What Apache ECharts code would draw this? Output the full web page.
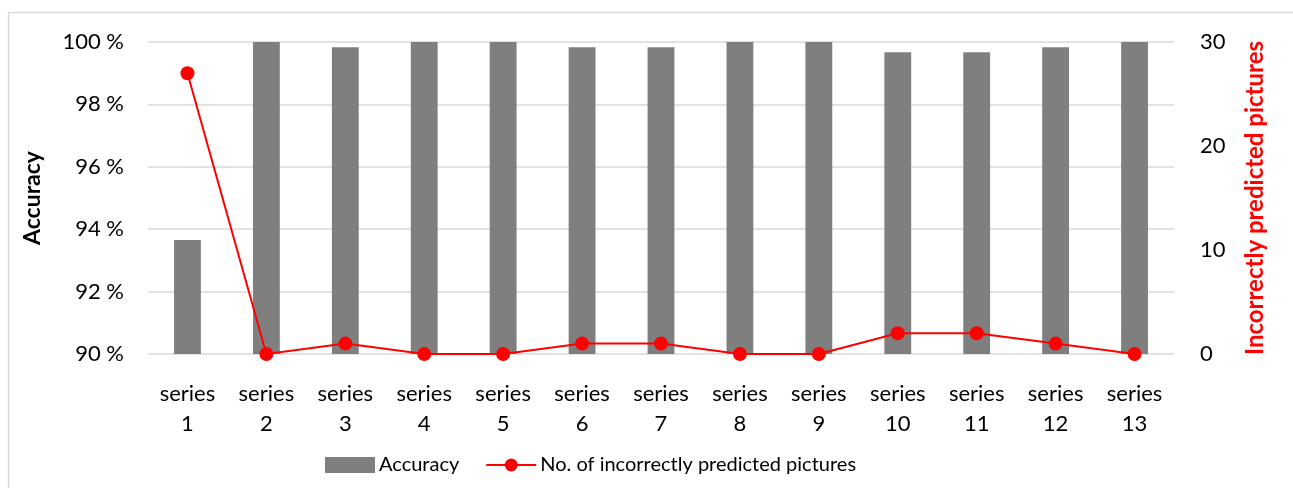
<!DOCTYPE html>
<html>
<head>
<meta charset="utf-8">
<script src="https://cdn.jsdelivr.net/npm/echarts@6/dist/echarts.min.js"></script>
<style>
  html, body { margin: 0; padding: 0; background: #fff; }
  #chart { width: 1293px; height: 488px; }
</style>
</head>
<body>
<div id="chart"></div>
<script>
const categories = ["series\n1", "series\n2", "series\n3", "series\n4", "series\n5", "series\n6", "series\n7",
  "series\n8", "series\n9", "series\n10", "series\n11", "series\n12", "series\n13"];
const accuracy = [93.65, 100, 99.83, 100, 100, 99.83, 99.83, 100, 100, 99.67, 99.67, 99.83, 100];
const incorrect = [27, 0, 1, 0, 0, 1, 1, 0, 0, 2, 2, 1, 0];

const chart = echarts.init(document.getElementById("chart"));
const font = "Lato, 'Open Sans', sans-serif";
chart.setOption({
  textStyle: { fontFamily: font },
  animation: false,
  graphic: [
    {
      type: "rect",
      shape: { x: 8.5, y: 12.5, width: 1300, height: 500 },
      style: { fill: "none", stroke: "#d9d9d9", lineWidth: 1.5 },
    },
  ],
  grid: { left: 148, right: 119, top: 42, bottom: 134, containLabel: false },
  legend: {
    bottom: 8,
    left: 320,
    itemGap: 26,
    itemWidth: 50,
    itemHeight: 16,
    textStyle: { fontSize: 20, color: "#000", fontFamily: font, padding: [0, 0, 0, -1] },
    data: [
      { name: "Accuracy", icon: "rect" },
      { name: "No. of incorrectly predicted pictures" },
    ],
  },
  xAxis: {
    type: "category",
    data: categories,
    axisLine: { show: false },
    axisTick: { show: false },
    axisLabel: { fontSize: 22, color: "#000", lineHeight: 30, margin: 25, interval: 0 },
  },
  yAxis: [
    {
      type: "value",
      min: 90,
      max: 100,
      interval: 2,
      name: "Accuracy",
      nameLocation: "middle",
      nameGap: 104,
      nameTextStyle: { fontSize: 23, fontWeight: "bold", color: "#000" },
      axisLine: { show: false },
      axisTick: { show: false },
      axisLabel: { fontSize: 22, color: "#000", margin: 24, formatter: "{value} %" },
      splitLine: { lineStyle: { color: "#d9d9d9", width: 1.5 } },
    },
    {
      type: "value",
      min: 0,
      max: 30,
      interval: 10,
      name: "Incorrectly predicted pictures",
      nameLocation: "middle",
      nameGap: 69,
      nameRotate: 90,
      nameTextStyle: { fontSize: 24, fontWeight: "bold", color: "#ff0000" },
      axisLine: { show: false },
      axisTick: { show: false },
      axisLabel: { fontSize: 22, color: "#000", margin: 26 },
      splitLine: { show: false },
    },
  ],
  series: [
    {
      name: "Accuracy",
      type: "bar",
      data: accuracy,
      barWidth: "34%",
      itemStyle: { color: "#7f7f7f" },
    },
    {
      name: "No. of incorrectly predicted pictures",
      type: "line",
      yAxisIndex: 1,
      data: incorrect,
      symbol: "circle",
      symbolSize: 14,
      lineStyle: { color: "#ff0000", width: 2 },
      itemStyle: { color: "#ff0000" },
    },
  ],
});
</script>
</body>
</html>
